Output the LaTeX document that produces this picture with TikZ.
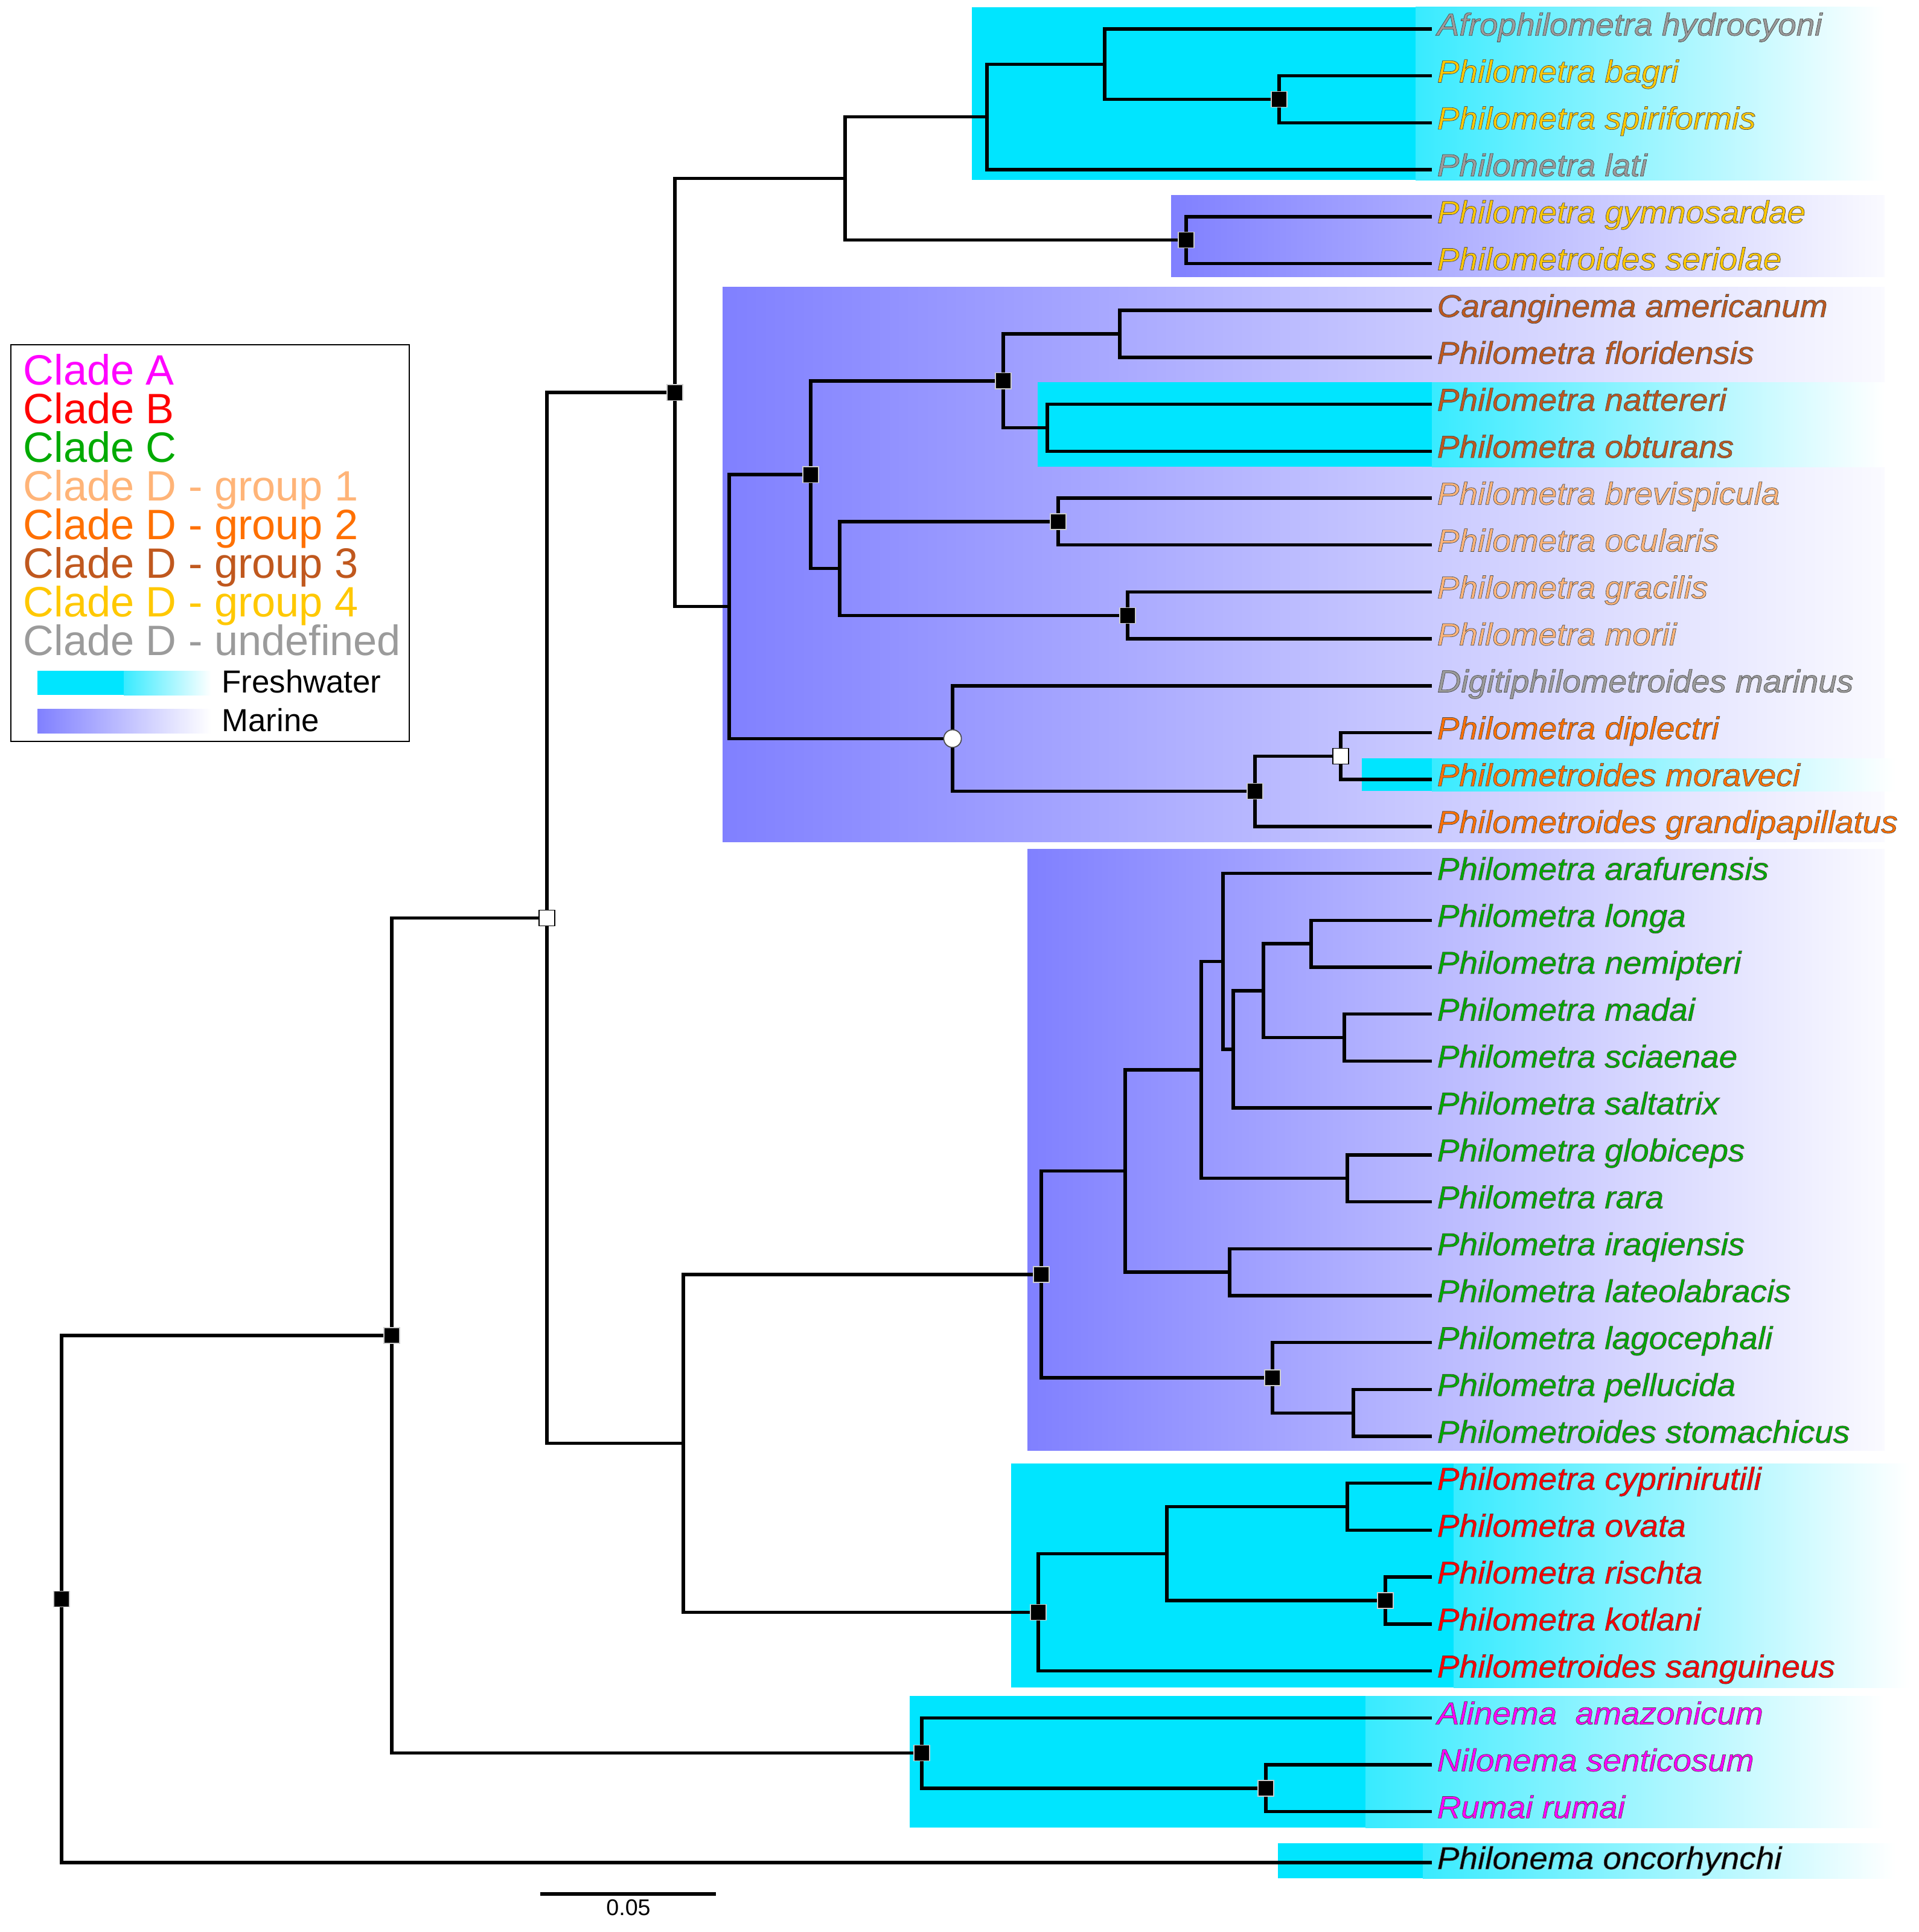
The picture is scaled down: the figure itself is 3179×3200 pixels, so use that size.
\documentclass[tikz,border=0pt]{standalone}
\usepackage{fontspec}
\setmainfont{Liberation Sans}
\newfontfamily\taxfam{Liberation Sans}[FakeStretch=1.055]
\usetikzlibrary{calc}
\definecolor{fresh}{RGB}{0,229,255}
\definecolor{marine}{RGB}{128,128,255}
\definecolor{cA}{RGB}{255,0,255}
\definecolor{cB}{RGB}{255,0,0}
\definecolor{cC}{RGB}{0,170,0}
\definecolor{cDa}{RGB}{255,180,120}
\definecolor{cDb}{RGB}{255,112,0}
\definecolor{cDc}{RGB}{192,88,30}
\definecolor{cDd}{RGB}{255,200,0}
\definecolor{cDu}{RGB}{155,155,155}
\newcommand\taxfont{\taxfam\fontsize{14.8}{18}\selectfont\itshape}
\newcommand\legfont{\fontsize{20}{24}\selectfont}
\newcommand\keyfont{\fontsize{15}{18}\selectfont}
\newcommand\tx[1]{\special{pdf:code 0.3 0.3 0.3 RG 0.2 w 2 Tr}#1\special{pdf:code 0 Tr 0.4 w}}
\newcommand\freshbox[5]{%
  \fill[fresh] (#1,#2) rectangle (#3,#5);
  \shade[left color=fresh!78!white, right color=white] (#3,#2) rectangle (#4,#5);}
\newcommand\marinebox[4]{%
  \shade[left color=marine, right color=white!96!marine] (#1,#2) rectangle (#3,#4);}
\newcommand\clade[3]{\draw[branch] (#2) -| (#1) |- (#3);}
\tikzset{
  branch/.style={line width=1.55pt, line join=miter},
  bsq/.style={shape=rectangle, draw=white!80!black, fill=black, line width=0.4pt, minimum size=7.4pt, inner sep=0pt},
  wsq/.style={shape=rectangle, draw=black, fill=white, line width=0.5pt, minimum size=7.4pt, inner sep=0pt},
  wcirc/.style={shape=circle, draw=black!70, fill=white, line width=0.5pt, minimum size=8.3pt, inner sep=0pt},
  lab/.style={anchor=base west, xshift=2.3pt, yshift=-3.05pt, inner sep=0pt, font=\taxfont},
  leg/.style={anchor=base west, inner sep=0pt, font=\legfont},
}
\begin{document}
\begin{tikzpicture}[x=0.01cm,y=-0.01cm]
\useasboundingbox (0,0) rectangle (3179,3200);
% ---------- habitat boxes ----------
\freshbox{1610}{12}{2345}{3122}{298}
\marinebox{1940}{323}{3122}{458}
\marinebox{1197}{475}{3122}{1394}
\freshbox{1719}{633}{2372}{3122}{773}
\freshbox{2256}{1256}{2372}{3140}{1310}
\marinebox{1702}{1406}{3122}{2402}
\freshbox{1675}{2424}{2408}{3163}{2795}
\freshbox{1507}{2809}{2262}{3122}{3027}
\freshbox{2117}{3053}{2357}{3140}{3111}
% ---------- tips ----------
\foreach \i/\yy in {1/48,2/125.7,3/203.4,4/281.1,5/358.8,6/436.5,7/514.2,8/591.9,9/669.6,10/747.3,
  11/825,12/902.7,13/980.4,14/1058.1,15/1135.8,16/1213.5,17/1291.2,18/1368.9,19/1446.6,20/1524.3,
  21/1602,22/1679.7,23/1757.4,24/1835.1,25/1912.8,26/1990.5,27/2068.2,28/2145.9,29/2223.6,30/2301.3,
  31/2379,32/2456.7,33/2534.4,34/2612.1,35/2689.8,36/2767.5,37/2845.2,38/2922.9,39/3000.6,40/3085}
  {\coordinate (t\i) at (2372,\yy);}
% ---------- internal nodes ----------
\coordinate (n9) at (2119,164.6);
\coordinate (n8) at (1830,106.3);
\coordinate (n6) at (1635,193.7);
\coordinate (ng) at (1965,397.7);
\coordinate (n5) at (1400,295.7);
\coordinate (n16) at (1855,553.1);
\coordinate (n17) at (1735,708.5);
\coordinate (n12) at (1662,630.8);
\coordinate (n14) at (1753,863.9);
\coordinate (n15) at (1868,1019.3);
\coordinate (n13) at (1391,941.6);
\coordinate (n10) at (1343,786.2);
\coordinate (n19) at (2221,1252.4);
\coordinate (n18) at (2079,1310.7);
\coordinate (n11) at (1578,1223.3);
\coordinate (n7) at (1208,1004.7);
\coordinate (n3) at (1118,650.2);
\coordinate (nln) at (2172,1563.2);
\coordinate (nms) at (2227,1718.6);
\coordinate (na) at (2093,1640.9);
\coordinate (nb) at (2043,1738);
\coordinate (nc) at (2026,1592.3);
\coordinate (n28) at (2232,1951.7);
\coordinate (n25) at (1990,1772);
\coordinate (n26) at (2037,2107.1);
\coordinate (n22) at (1864,1939.6);
\coordinate (n24) at (2242,2340.2);
\coordinate (n23) at (2108,2281.9);
\coordinate (n20) at (1725,2110.8);
\coordinate (n30) at (2232,2495.6);
\coordinate (n31) at (2295,2651);
\coordinate (n29) at (1933,2573.3);
\coordinate (n21) at (1720,2670.4);
\coordinate (n4) at (1132,2390.6);
\coordinate (n2) at (906,1520.4);
\coordinate (n32) at (2097,2961.8);
\coordinate (nA) at (1527,2903.5);
\coordinate (n1) at (649,2212);
\coordinate (root) at (102,2648.5);
% ---------- branches ----------
\clade{n9}{t2}{t3}
\clade{n8}{t1}{n9}
\clade{n6}{n8}{t4}
\clade{ng}{t5}{t6}
\clade{n5}{n6}{ng}
\clade{n16}{t7}{t8}
\clade{n17}{t9}{t10}
\clade{n12}{n16}{n17}
\clade{n14}{t11}{t12}
\clade{n15}{t13}{t14}
\clade{n13}{n14}{n15}
\clade{n10}{n12}{n13}
\clade{n19}{t16}{t17}
\clade{n18}{n19}{t18}
\clade{n11}{t15}{n18}
\clade{n7}{n10}{n11}
\clade{n3}{n5}{n7}
\clade{nln}{t20}{t21}
\clade{nms}{t22}{t23}
\clade{na}{nln}{nms}
\clade{nb}{na}{t24}
\clade{nc}{t19}{nb}
\clade{n28}{t25}{t26}
\clade{n25}{nc}{n28}
\clade{n26}{t27}{t28}
\clade{n22}{n25}{n26}
\clade{n24}{t30}{t31}
\clade{n23}{t29}{n24}
\clade{n20}{n22}{n23}
\clade{n30}{t32}{t33}
\clade{n31}{t34}{t35}
\clade{n29}{n30}{n31}
\clade{n21}{n29}{t36}
\clade{n4}{n20}{n21}
\clade{n2}{n3}{n4}
\clade{n32}{t38}{t39}
\clade{nA}{t37}{n32}
\clade{n1}{n2}{nA}
\clade{root}{n1}{t40}
% ---------- support markers ----------
\node[bsq] (m-root) at (root) {};
\node[bsq] (m-n1) at (n1) {};
\node[wsq] (m-n2) at (n2) {};
\node[bsq] (m-n3) at (n3) {};
\node[bsq] (m-n9) at (n9) {};
\node[bsq] (m-ng) at (ng) {};
\node[bsq] (m-n10) at (n10) {};
\node[bsq] (m-n12) at (n12) {};
\node[bsq] (m-n14) at (n14) {};
\node[bsq] (m-n15) at (n15) {};
\node[wcirc] (m-n11) at (n11) {};
\node[bsq] (m-n18) at (n18) {};
\node[wsq] (m-n19) at (n19) {};
\node[bsq] (m-n20) at (n20) {};
\node[bsq] (m-n23) at (n23) {};
\node[bsq] (m-n21) at (n21) {};
\node[bsq] (m-n31) at (n31) {};
\node[bsq] (m-nA) at (nA) {};
\node[bsq] (m-n32) at (n32) {};
% ---------- taxon labels ----------
\node[lab, text=cDu] (l1) at (t1) {\tx{Afrophilometra hydrocyoni}};
\node[lab, text=cDd] (l2) at (t2) {\tx{Philometra bagri}};
\node[lab, text=cDd] (l3) at (t3) {\tx{Philometra spiriformis}};
\node[lab, text=cDu] (l4) at (t4) {\tx{Philometra lati}};
\node[lab, text=cDd] (l5) at (t5) {\tx{Philometra gymnosardae}};
\node[lab, text=cDd] (l6) at (t6) {\tx{Philometroides seriolae}};
\node[lab, text=cDc] (l7) at (t7) {\tx{Caranginema americanum}};
\node[lab, text=cDc] (l8) at (t8) {\tx{Philometra floridensis}};
\node[lab, text=cDc] (l9) at (t9) {\tx{Philometra nattereri}};
\node[lab, text=cDc] (l10) at (t10) {\tx{Philometra obturans}};
\node[lab, text=cDa] (l11) at (t11) {\tx{Philometra brevispicula}};
\node[lab, text=cDa] (l12) at (t12) {\tx{Philometra ocularis}};
\node[lab, text=cDa] (l13) at (t13) {\tx{Philometra gracilis}};
\node[lab, text=cDa] (l14) at (t14) {\tx{Philometra morii}};
\node[lab, text=cDu] (l15) at (t15) {\tx{Digitiphilometroides marinus}};
\node[lab, text=cDb] (l16) at (t16) {\tx{Philometra diplectri}};
\node[lab, text=cDb] (l17) at (t17) {\tx{Philometroides moraveci}};
\node[lab, text=cDb] (l18) at (t18) {\tx{Philometroides grandipapillatus}};
\node[lab, text=cC] (l19) at (t19) {\tx{Philometra arafurensis}};
\node[lab, text=cC] (l20) at (t20) {\tx{Philometra longa}};
\node[lab, text=cC] (l21) at (t21) {\tx{Philometra nemipteri}};
\node[lab, text=cC] (l22) at (t22) {\tx{Philometra madai}};
\node[lab, text=cC] (l23) at (t23) {\tx{Philometra sciaenae}};
\node[lab, text=cC] (l24) at (t24) {\tx{Philometra saltatrix}};
\node[lab, text=cC] (l25) at (t25) {\tx{Philometra globiceps}};
\node[lab, text=cC] (l26) at (t26) {\tx{Philometra rara}};
\node[lab, text=cC] (l27) at (t27) {\tx{Philometra iraqiensis}};
\node[lab, text=cC] (l28) at (t28) {\tx{Philometra lateolabracis}};
\node[lab, text=cC] (l29) at (t29) {\tx{Philometra lagocephali}};
\node[lab, text=cC] (l30) at (t30) {\tx{Philometra pellucida}};
\node[lab, text=cC] (l31) at (t31) {\tx{Philometroides stomachicus}};
\node[lab, text=cB] (l32) at (t32) {\tx{Philometra cyprinirutili}};
\node[lab, text=cB] (l33) at (t33) {\tx{Philometra ovata}};
\node[lab, text=cB] (l34) at (t34) {\tx{Philometra rischta}};
\node[lab, text=cB] (l35) at (t35) {\tx{Philometra kotlani}};
\node[lab, text=cB] (l36) at (t36) {\tx{Philometroides sanguineus}};
\node[lab, text=cA] (l37) at (t37) {\tx{Alinema\ \ amazonicum}};
\node[lab, text=cA] (l38) at (t38) {\tx{Nilonema senticosum}};
\node[lab, text=cA] (l39) at (t39) {\tx{Rumai rumai}};
\node[lab, text=black] (l40) at (t40) {\tx{Philonema oncorhynchi}};
% ---------- scale bar ----------
\coordinate (sb1) at (895,3137);
\coordinate (sb2) at (1186,3137);
\draw[line width=1.6pt] (sb1) -- (sb2);
\node[anchor=base, inner sep=0pt, font=\fontsize{10.7}{12}\selectfont] (sbl) at (1041,3172) {0.05};
% ---------- legend ----------
\draw[line width=0.6pt] (18,571) rectangle (678,1228);
\node[leg, text=cA] (lgA) at (38,637) {Clade A};
\node[leg, text=cB] (lgB) at (38,701) {Clade B};
\node[leg, text=cC] (lgC) at (38,765) {Clade C};
\node[leg, text=cDa] (lgD1) at (38,829) {Clade D - group 1};
\node[leg, text=cDb] (lgD2) at (38,893) {Clade D - group 2};
\node[leg, text=cDc] (lgD3) at (38,957) {Clade D - group 3};
\node[leg, text=cDd] (lgD4) at (38,1021) {Clade D - group 4};
\node[leg, text=cDu] (lgDu) at (38,1085) {Clade D - undefined};
\fill[fresh] (62,1111) rectangle (205,1151);
\shade[left color=fresh!78!white, right color=white] (205,1111) rectangle (350,1151);
\shade[left color=marine, right color=white] (62,1174) rectangle (350,1214);
\node[anchor=base west, inner sep=0pt, font=\keyfont] (lgF) at (367,1147) {Freshwater};
\node[anchor=base west, inner sep=0pt, font=\keyfont] (lgM) at (367,1211) {Marine};
\end{tikzpicture}
\end{document}
